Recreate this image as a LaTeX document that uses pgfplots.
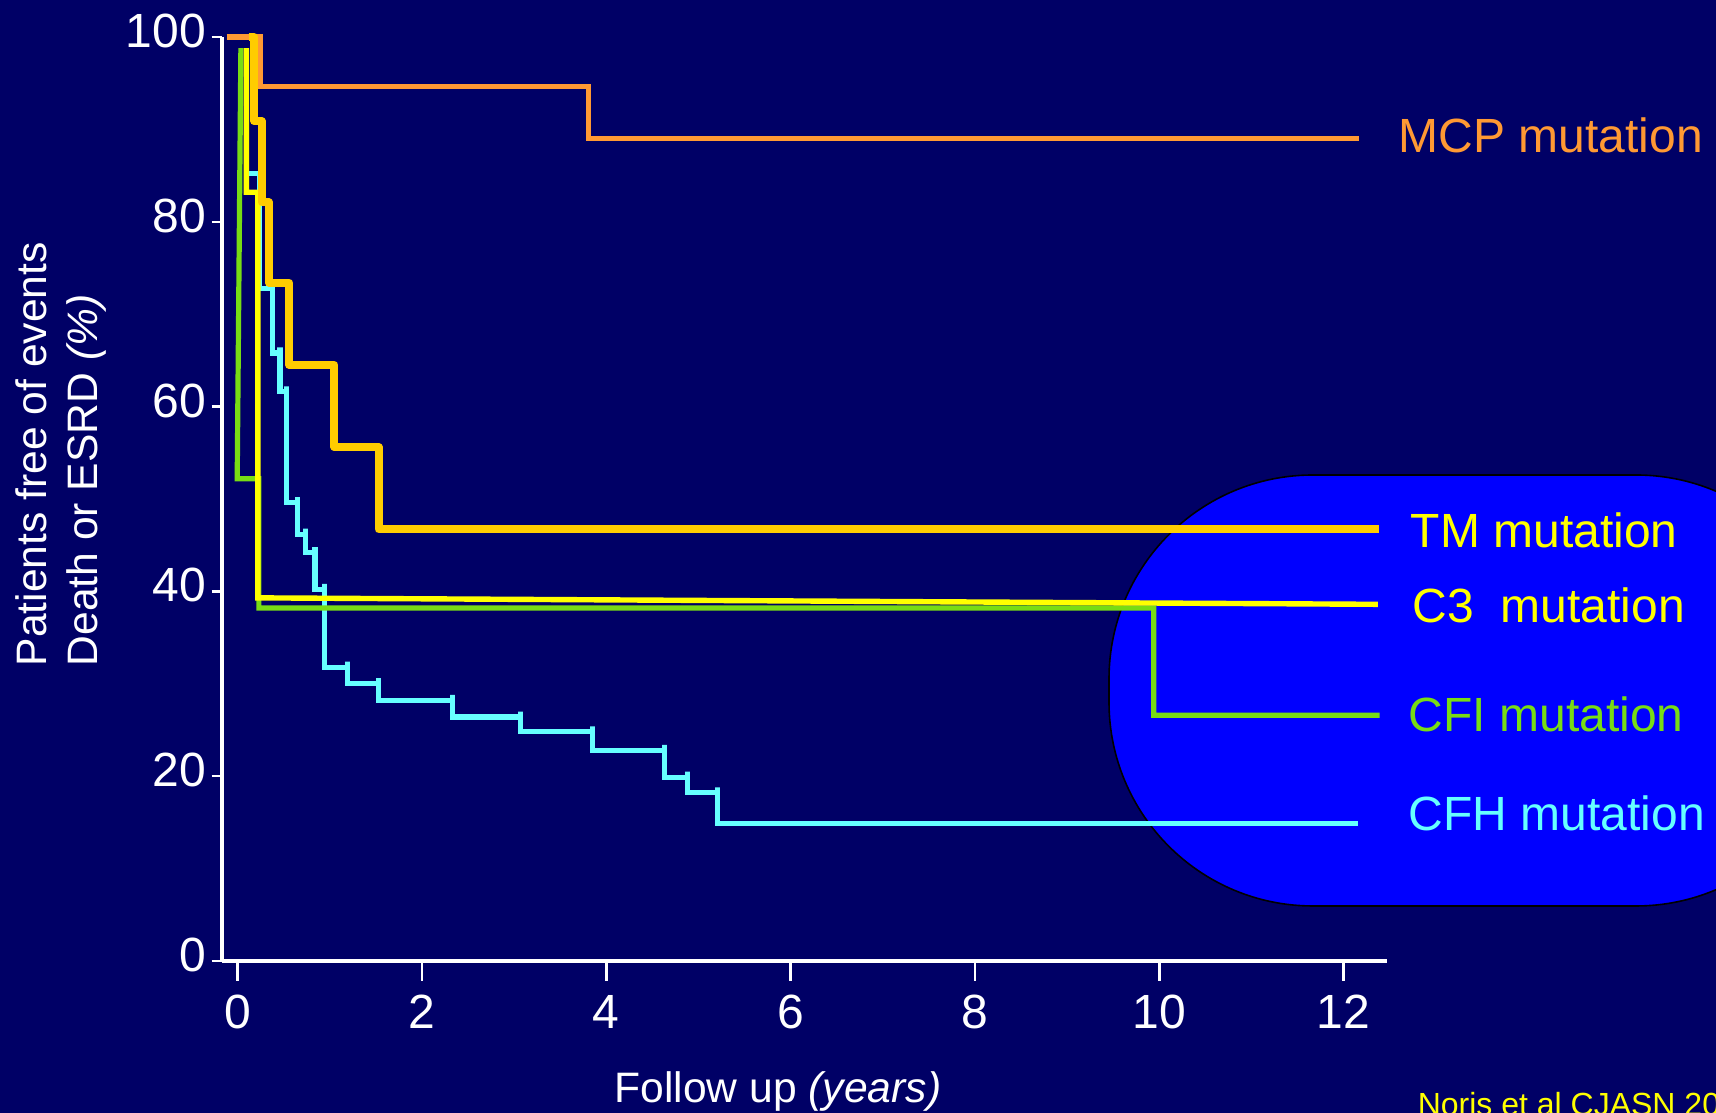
\documentclass[border=0pt]{standalone}
\usepackage{fontspec}
\setmainfont{Liberation Sans}
\usepackage{pgfplots}
\pgfplotsset{compat=1.18}

\definecolor{slidebg}{HTML}{000066}
\definecolor{panelblue}{HTML}{0000FF}
\definecolor{mcpcol}{HTML}{FF9933}
\definecolor{tmcol}{HTML}{FFCC00}
\definecolor{c3col}{HTML}{FFFF00}
\definecolor{cficol}{HTML}{78DC14}
\definecolor{cfhcol}{HTML}{66FFFF}

\begin{document}
\begin{tikzpicture}
% slide canvas
\path[use as bounding box] (0,0) rectangle (429pt,278.25pt);
\fill[slidebg] (0,0) rectangle (429pt,278.25pt);
\clip (0,0) rectangle (429pt,278.25pt);

% rounded panel behind the group labels
\filldraw[fill=panelblue, draw=black, line width=0.4pt, rounded corners=51pt]
  (277.25pt,51.75pt) rectangle (460pt,159.5pt);

\begin{axis}[
  at={(55.5pt,38pt)}, anchor=south west,
  scale only axis, width=291.25pt, height=231pt,
  xmin=-0.17, xmax=12.47, ymin=0, ymax=100,
  axis lines=left,
  axis line style={-, white},
  x axis line style={line width=1.1pt},
  y axis line style={line width=0.8pt},
  xtick=\empty,
  extra x ticks={0,2,4,6,8,10,12},
  extra x tick style={major tick length=5pt, tick align=outside,
    xticklabel style={anchor=north, yshift=-3.3pt}},
  ytick={0,20,40,60,80,100},
  tick align=outside,
  major tick length=2.6pt,
  tick style={white, line width=0.6pt},
  ticklabel style={font=\fontsize{12pt}{14pt}\selectfont, text=white, inner sep=0pt},
  yticklabel style={anchor=east, yshift=1.5pt, xshift=-1.2pt},
  /pgf/number format/assume math mode=true,
  clip=false,
]
% MCP mutation
\addplot[mcpcol, line width=1.3pt] coordinates {
  (-0.12,100) (0.25,100) (0.25,94.6) (3.81,94.6) (3.81,89.0) (12.17,89.0)
};
% CFH mutation
\addplot[cfhcol, line width=1.3pt] coordinates {
  (0.094,98.8) (0.094,85.2) (0.24,85.2) (0.24,72.8) (0.38,72.8) (0.38,73.4) (0.38,65.8)
  (0.46,65.8) (0.46,66.4) (0.46,61.6) (0.53,61.6) (0.53,62.2) (0.53,49.6)
  (0.65,49.6) (0.65,50.2) (0.65,46.2) (0.74,46.2) (0.74,46.8) (0.74,44.2)
  (0.84,44.2) (0.84,44.8) (0.84,40.2) (0.94,40.2) (0.94,40.8) (0.94,31.8)
  (1.19,31.8) (1.19,32.4) (1.19,30.0) (1.53,30.0) (1.53,30.6) (1.53,28.2)
  (2.33,28.2) (2.33,28.8) (2.33,26.4) (3.07,26.4) (3.07,27.0) (3.07,24.8)
  (3.85,24.8) (3.85,25.4) (3.85,22.8) (4.63,22.8) (4.63,23.4) (4.63,19.9)
  (4.88,19.9) (4.88,20.5) (4.88,18.2) (5.21,18.2) (5.21,18.8) (5.21,14.9)
  (12.16,14.9)
};
% CFI mutation
\addplot[cficol, line width=1.3pt] coordinates {
  (0.035,98.8) (-0.005,52.2) (0.23,52.2) (0.23,38.2) (9.94,38.2) (9.94,26.6) (12.39,26.6)
};
% C3 mutation
\addplot[c3col, line width=1.35pt] coordinates {
  (0.094,98.8) (0.094,83.2) (0.22,83.2) (0.22,39.3) (12.37,38.6)
};
% TM mutation
\addplot[tmcol, line width=2pt, line join=round] coordinates {
  (0.12,100) (0.18,100) (0.18,90.9) (0.26,90.9) (0.26,82.1) (0.34,82.1)
  (0.34,73.4) (0.56,73.4) (0.56,64.5) (1.05,64.5) (1.05,55.6) (1.53,55.6)
  (1.53,46.7) (12.38,46.7)
};
\end{axis}

% axis titles
\begin{scope}[font=\fontsize{10.65pt}{12.5pt}\selectfont, text=white, inner sep=0pt]
  \node[rotate=90, anchor=base west] at (11.7pt,111.5pt) {Patients free of events};
  \node[rotate=90, anchor=base west] at (24.3pt,111.5pt) {Death or ESRD \textit{(\%)}};
  \node[anchor=base] at (194.5pt,2.5pt) {Follow up \textit{(years)}};
\end{scope}

% group labels
\begin{scope}[font=\fontsize{12pt}{14pt}\selectfont, inner sep=0pt, anchor=base west]
  \node[text=mcpcol] at (349.5pt,240pt) {MCP mutation};
  \node[text=c3col] at (352.5pt,141.25pt) {TM mutation};
  \node[text=c3col] at (353pt,122.5pt) {C3\ \ mutation};
  \node[text=cficol] at (352pt,95.25pt) {CFI mutation};
  \node[text=cfhcol] at (352pt,70.5pt) {CFH mutation};
\end{scope}

\node[font=\fontsize{8pt}{9pt}\selectfont, text=c3col, inner sep=0pt, anchor=base west]
  at (354.25pt,-0.75pt) {Noris et al CJASN 2010};
\end{tikzpicture}
\end{document}
